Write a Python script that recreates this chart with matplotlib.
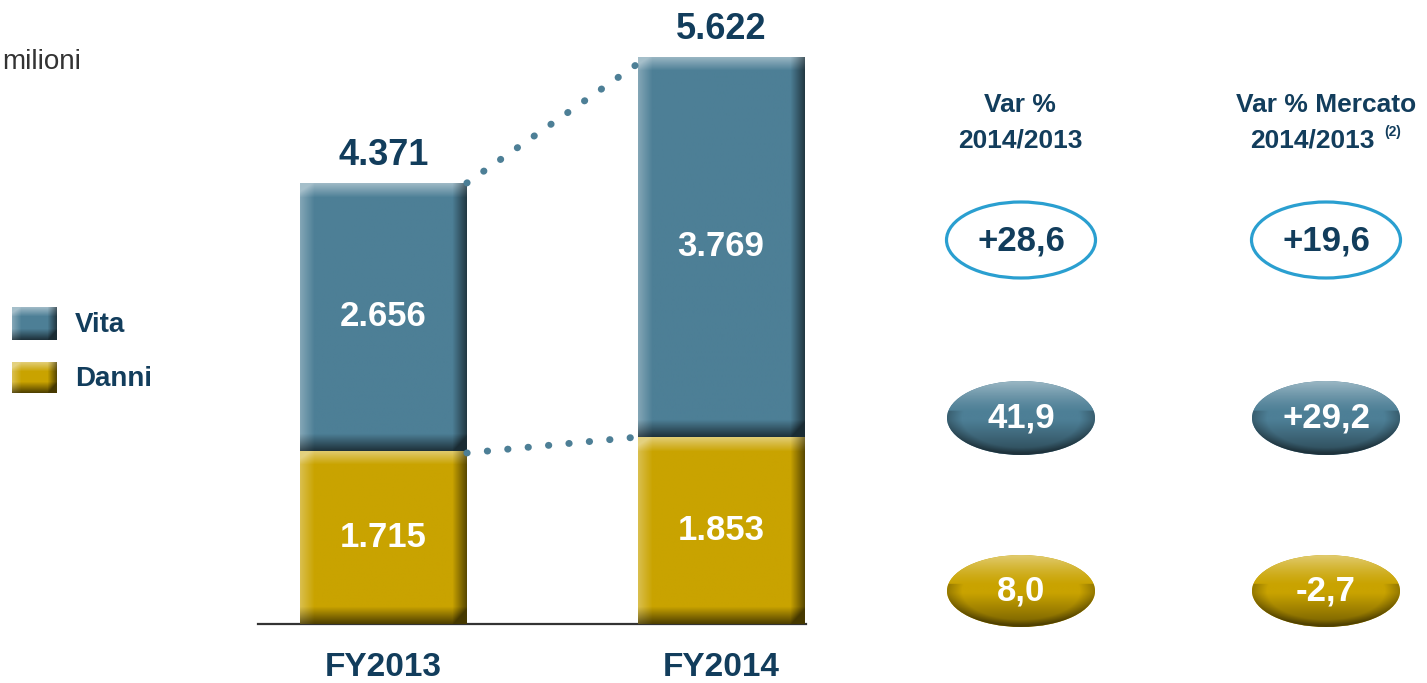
import numpy as np
import matplotlib.pyplot as plt
from matplotlib.patches import Ellipse, Rectangle
from matplotlib.colors import to_rgb

plt.rcParams['font.family'] = ['Liberation Sans', 'DejaVu Sans']

# Data
years = ['FY2013', 'FY2014']
danni = [1715, 1853]
vita = [2656, 3769]
var_pct = ['+28,6', '41,9', '8,0']
var_mercato = ['+19,6', '+29,2', '-2,7']

NAVY = '#123d5c'
VITA_C = '#4d7f96'
DANNI_C = '#c9a300'
RING_C = '#2a9fd0'


def fmt(v):
    return f'{v:,}'.replace(',', '.')


def bevel_fill(ax, x0, x1, yb, yt, color, bevel=12, clip=None, z=3):
    # shaded rectangle: light top/left, dark bottom/right
    p0 = ax.transData.transform((x0, yb))
    p1 = ax.transData.transform((x1, yt))
    w = max(int(abs(p1[0] - p0[0])), 2)
    h = max(int(abs(p1[1] - p0[1])), 2)
    xx = np.arange(w)[None, :].repeat(h, 0)
    yy = np.arange(h)[:, None].repeat(w, 1)
    left = np.clip(1 - xx / bevel, 0, 1)
    right = np.clip(1 - (w - 1 - xx) / bevel, 0, 1)
    top = np.clip(1 - yy / bevel, 0, 1)
    bottom = np.clip(1 - (h - 1 - yy) / (bevel * 1.2), 0, 1)
    base = np.array(to_rgb(color))
    dark = np.clip(0.55 * right + 0.6 * bottom, 0, 0.65)
    light = np.clip(0.3 * left + 0.45 * top, 0, 0.5) * (1 - dark)
    img = base[None, None, :] * (1 - dark[..., None])
    img = img + (1 - img) * light[..., None]
    im = ax.imshow(np.clip(img, 0, 1), extent=(x0, x1, yb, yt), origin='upper',
                   aspect='auto', interpolation='bilinear', zorder=z)
    if clip is not None:
        im.set_clip_path(clip)


def pill(ax, cx, cy, w, h, color, z=3):
    e = Ellipse((cx, cy), w, h, facecolor=color, edgecolor='none', zorder=z)
    ax.add_patch(e)
    n = 120
    u = np.linspace(-1, 1, n)[None, :].repeat(n, 0)
    v = np.linspace(-1, 1, n)[:, None].repeat(n, 1)  # -1 top
    r = np.sqrt(u ** 2 + v ** 2)
    base = np.array(to_rgb(color))
    s = -v - 0.15
    light = np.clip(s, 0, 1) ** 1.4 * 0.55
    dark = np.clip(-s - 0.2, 0, 1) * 0.45 + np.clip((r - 0.8) / 0.2, 0, 1) * 0.25 * (v > -0.2)
    dark = np.clip(dark, 0, 0.6)
    img = base[None, None, :] * (1 - dark[..., None])
    img = img + (1 - img) * light[..., None]
    im = ax.imshow(np.clip(img, 0, 1), extent=(cx - w / 2, cx + w / 2, cy + h / 2, cy - h / 2),
                   origin='upper', aspect='auto', interpolation='bilinear', zorder=z + 0.1)
    im.set_clip_path(e)


W, H = 1427, 683
fig = plt.figure(figsize=(W / 100, H / 100), dpi=100)

# main bar axes, placed in pixel terms
L, R, B = 258, 806, 624
ax = fig.add_axes([L / W, (H - B) / H, (R - L) / W, B / H])
c0 = 383.5
scale_x = 337.5
ax.set_xlim((L - c0) / scale_x, (R - c0) / scale_x)
ax.set_ylim(0, B / 0.1009)
width = 0.494
x = np.arange(len(years))
totals = [d + v for d, v in zip(danni, vita)]

bars_d = ax.bar(x, danni, width, color=DANNI_C, zorder=2)
bars_v = ax.bar(x, vita, width, bottom=danni, color=VITA_C, zorder=2)
for bd, bv in zip(bars_d, bars_v):
    for b, col in [(bd, DANNI_C), (bv, VITA_C)]:
        bevel_fill(ax, b.get_x(), b.get_x() + b.get_width(), b.get_y(),
                   b.get_y() + b.get_height(), col, bevel=14, clip=b)

# dotted connectors
for ys in [(totals[0], totals[1] - 70), (danni[0] - 20, danni[1])]:
    ax.plot([x[0] + width / 2, x[1] - width / 2], ys, color=VITA_C, lw=5,
            linestyle=(0, (0.05, 2.9)), dash_capstyle='round', zorder=4)

for i in x:
    ax.annotate(fmt(totals[i]), (i, totals[i]), xytext=(0, 13), textcoords='offset points',
                ha='center', va='baseline', fontsize=26, fontweight='bold', color=NAVY)
    ax.text(i, danni[i] / 2, fmt(danni[i]), ha='center', va='center', fontsize=25,
            fontweight='bold', color='white', zorder=5)
    ax.text(i, danni[i] + vita[i] / 2, fmt(vita[i]), ha='center', va='center', fontsize=25,
            fontweight='bold', color='white', zorder=5)

for s in ['top', 'right', 'left']:
    ax.spines[s].set_visible(False)
ax.spines['bottom'].set_linewidth(1.6)
ax.spines['bottom'].set_color('#333333')
ax.set_yticks([])
ax.set_xticks(x)
ax.set_xticklabels(years, fontsize=24, fontweight='bold', color=NAVY)
ax.tick_params(axis='x', length=0, pad=20)
ax.patch.set_visible(False)

# overlay in pixel coordinates for legend and right panel
ov = fig.add_axes([0, 0, 1, 1])
ov.set_xlim(0, W)
ov.set_ylim(H, 0)
ov.axis('off')
ov.patch.set_visible(False)

ov.text(2, 62, 'milioni', ha='left', va='center', fontsize=20, color='#333333')

for (y0, y1), col, lab in [((307, 340), VITA_C, 'Vita'), ((362, 393), DANNI_C, 'Danni')]:
    rect = Rectangle((12, y0), 45, y1 - y0, facecolor=col, edgecolor='none', zorder=2)
    ov.add_patch(rect)
    bevel_fill(ov, 12, 57, y1, y0, col, bevel=9, clip=rect)
    ov.text(75, (y0 + y1) / 2 + 1, lab, ha='left', va='center', fontsize=20,
            fontweight='bold', color=NAVY)

# right panel headers
ov.text(1020, 105, 'Var %', ha='center', va='center', fontsize=19, fontweight='bold', color=NAVY)
ov.text(1020, 140, '2014/2013', ha='center', va='center', fontsize=19, fontweight='bold', color=NAVY)
ov.text(1326, 105, 'Var % Mercato', ha='center', va='center', fontsize=19, fontweight='bold', color=NAVY)
ov.text(1312, 140, '2014/2013', ha='center', va='center', fontsize=19, fontweight='bold', color=NAVY)
ov.text(1384, 132, '(2)', ha='left', va='center', fontsize=10, fontweight='bold', color=NAVY)

cols = [1021, 1326]
rows = [240, 418, 591]
for cx, vals in zip(cols, [var_pct, var_mercato]):
    ring = Ellipse((cx, rows[0]), 149, 76, facecolor='white', edgecolor=RING_C, lw=2.3, zorder=3)
    ov.add_patch(ring)
    ov.text(cx, rows[0] + 1, vals[0], ha='center', va='center', fontsize=25,
            fontweight='bold', color=NAVY, zorder=5)
    pill(ov, cx, rows[1], 148, 74, VITA_C)
    ov.text(cx, rows[1], vals[1], ha='center', va='center', fontsize=25,
            fontweight='bold', color='white', zorder=5)
    pill(ov, cx, rows[2], 148, 72, DANNI_C)
    ov.text(cx, rows[2], vals[2], ha='center', va='center', fontsize=25,
            fontweight='bold', color='white', zorder=5)

fig.savefig('out.png', dpi=100)
